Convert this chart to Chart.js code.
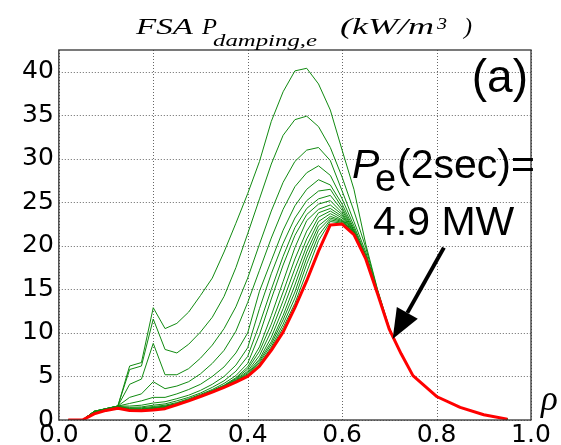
<!DOCTYPE html>
<html>
<head>
<meta charset="utf-8">
<script src="https://cdn.jsdelivr.net/npm/chart.js@4.4.0/dist/chart.umd.min.js"></script>
<style>
  html, body { margin: 0; padding: 0; background: #fff; }
</style>
</head>
<body>
<canvas id="chart" width="561" height="445"></canvas>
<script>
// normalized radius grid
const rho = [0.02, 0.05, 0.075, 0.1, 0.125, 0.15, 0.175, 0.2, 0.225, 0.25, 0.275, 0.3, 0.325, 0.35,
  0.375, 0.4, 0.425, 0.45, 0.475, 0.5, 0.525, 0.55, 0.575, 0.6, 0.625, 0.65, 0.675, 0.7,
  0.725, 0.75, 0.8, 0.85, 0.9, 0.95];

// final profile (2 sec), red
const pFinal = [0, 0, 0.7, 1.1, 1.35, 1.1, 1.05, 1.15, 1.3, 1.75, 2.2, 2.7, 3.2, 3.75, 4.35,
  5.0, 6.2, 8.0, 10.1, 12.9, 16.0, 19.4, 22.4, 22.5, 21.3, 18.5, 14.5, 10.4,
  7.6, 5.1, 2.7, 1.45, 0.6, 0.1];

// earlier time slices, green (rho 0.02 .. 0.7), outer part shared
const outerTail = [7.6, 5.1, 2.7, 1.45, 0.6, 0.1];
const g01 = [0, 0, 1.0, 1.3, 1.6, 6.2, 6.6, 12.9, 10.5, 11.1, 12.4, 14.3, 16.3, 19.3, 22.6, 26.0, 29.7, 34.3, 37.7, 40.1, 40.4, 38.6, 35.6, 31.0, 26.5, 20.2, 15.0, 10.6];
const g02 = [0, 0, 1.0, 1.3, 1.6, 5.8, 6.2, 11.6, 8.1, 7.7, 8.7, 10.1, 11.8, 14.2, 17.5, 21.4, 25.4, 29.4, 32.7, 34.5, 34.9, 33.7, 31.3, 27.9, 24.0, 19.8, 14.9, 10.5];
const g03 = [0, 0, 1.0, 1.3, 1.6, 4.1, 4.7, 8.8, 5.2, 5.2, 5.9, 7.1, 8.6, 10.5, 13.0, 16.3, 20.2, 24.0, 27.3, 29.7, 31.0, 31.3, 29.8, 26.3, 22.8, 19.3, 14.8, 10.5];
const g04 = [0, 0, 1.0, 1.3, 1.6, 2.6, 3.0, 4.4, 3.6, 3.9, 4.4, 5.3, 6.5, 8.0, 10.2, 13.5, 17.2, 20.9, 24.2, 26.8, 28.4, 29.2, 28.1, 25.4, 22.3, 19.0, 14.7, 10.5];
const g05 = [0, 0, 0.95, 1.3, 1.6, 1.9, 2.2, 2.6, 2.6, 3.0, 3.5, 4.1, 5.0, 6.1, 7.7, 10.0, 14.8, 18.3, 21.8, 24.6, 26.5, 27.6, 27.0, 24.8, 22.0, 18.9, 14.7, 10.5];
const g06 = [0, 0, 0.95, 1.25, 1.6, 1.6, 1.7, 1.95, 2.1, 2.45, 2.85, 3.4, 4.1, 5.0, 6.3, 8.3, 12.8, 16.8, 20.3, 23.2, 25.2, 26.3, 26.5, 24.4, 21.8, 18.8, 14.7, 10.5];
const g07 = [0, 0, 0.95, 1.25, 1.55, 1.45, 1.5, 1.7, 1.85, 2.2, 2.6, 3.1, 3.75, 4.5, 5.6, 7.3, 11.0, 15.0, 18.8, 22.1, 24.3, 25.4, 25.8, 24.1, 21.7, 18.7, 14.6, 10.5];
const g08 = [0, 0, 0.9, 1.25, 1.55, 1.35, 1.4, 1.55, 1.7, 2.0, 2.45, 2.95, 3.5, 4.2, 5.1, 6.5, 9.8, 13.9, 17.8, 21.2, 23.6, 24.8, 25.2, 23.8, 21.6, 18.7, 14.6, 10.5];
const g09 = [0, 0, 0.9, 1.2, 1.5, 1.3, 1.3, 1.45, 1.6, 1.9, 2.35, 2.85, 3.4, 4.0, 4.85, 6.1, 8.4, 12.0, 15.9, 19.8, 22.9, 24.2, 24.7, 23.6, 21.5, 18.7, 14.6, 10.5];
const g10 = [0, 0, 0.9, 1.2, 1.5, 1.25, 1.25, 1.4, 1.55, 1.85, 2.3, 2.8, 3.35, 3.95, 4.75, 5.85, 7.9, 11.0, 14.7, 18.5, 21.7, 23.8, 24.3, 23.4, 21.5, 18.6, 14.6, 10.5];
const g11 = [0, 0, 0.85, 1.2, 1.5, 1.2, 1.2, 1.35, 1.5, 1.85, 2.3, 2.8, 3.3, 3.9, 4.65, 5.6, 7.4, 10.2, 13.7, 17.4, 20.8, 23.3, 24.0, 23.2, 21.4, 18.6, 14.6, 10.5];
const g12 = [0, 0, 0.85, 1.15, 1.45, 1.2, 1.15, 1.3, 1.45, 1.8, 2.25, 2.75, 3.3, 3.85, 4.55, 5.45, 7.0, 9.5, 12.8, 16.4, 20.0, 22.8, 23.7, 23.0, 21.4, 18.6, 14.6, 10.5];
const g13 = [0, 0, 0.8, 1.15, 1.45, 1.15, 1.1, 1.25, 1.45, 1.8, 2.25, 2.75, 3.25, 3.85, 4.5, 5.3, 6.8, 9.0, 12.0, 15.5, 19.3, 22.3, 23.4, 22.9, 21.4, 18.6, 14.5, 10.4];
const g14 = [0, 0, 0.8, 1.1, 1.4, 1.15, 1.1, 1.2, 1.4, 1.8, 2.2, 2.7, 3.25, 3.8, 4.45, 5.2, 6.6, 8.7, 11.5, 14.7, 18.6, 21.8, 23.2, 22.8, 21.4, 18.5, 14.5, 10.4];
const g15 = [0, 0, 0.75, 1.1, 1.4, 1.1, 1.05, 1.2, 1.4, 1.8, 2.2, 2.7, 3.2, 3.8, 4.4, 5.15, 6.4, 8.4, 11.0, 14.0, 17.9, 21.2, 23.0, 22.7, 21.3, 18.5, 14.5, 10.4];
const g16 = [0, 0, 0.75, 1.1, 1.4, 1.1, 1.05, 1.15, 1.35, 1.75, 2.2, 2.7, 3.2, 3.75, 4.4, 5.1, 6.3, 8.2, 10.6, 13.4, 17.0, 20.6, 22.8, 22.6, 21.3, 18.5, 14.5, 10.4];

const xTicks = [0, 0.2, 0.4, 0.6, 0.8, 1.0];
const yTicks = [0, 5, 10, 15, 20, 25, 30, 35, 40];

// arrow: tail and tip in data units (rho, kW/m^3)
const arrowTail = [0.8155, 19.8];
const arrowTip = [0.707, 9.3];

const toPoints = vals => vals.map((v, i) => ({ x: rho[i], y: v }));

const greens = [g01, g02, g03, g04, g05, g06, g07, g08, g09, g10, g11, g12, g13, g14, g15, g16];

const datasets = [{
    label: 'P_e 2 sec',
    data: toPoints(pFinal),
    borderColor: '#ff0000',
    borderWidth: 3,
    pointRadius: 0,
    borderJoinStyle: 'round'
}];
greens.forEach((g, i) => {
    datasets.push({
        label: 't' + (i + 1),
        data: toPoints(g.concat(outerTail)),
        borderColor: '#108a10',
        borderWidth: 1,
        pointRadius: 0,
        borderJoinStyle: 'round'
    });
});

const stretchText = (ctx, text, x, y, w, font) => {
    ctx.font = font;
    const nat = ctx.measureText(text).width;
    ctx.save();
    ctx.translate(x, y);
    ctx.scale(w / nat, 1);
    ctx.fillText(text, 0, 0);
    ctx.restore();
};

const decor = {
    id: 'decor',
    beforeDatasetsDraw(chart) {
        // dotted grid at the tick values
        const { ctx, chartArea: a, scales } = chart;
        ctx.save();
        ctx.strokeStyle = 'rgba(0,0,0,0.6)';
        ctx.lineWidth = 1;
        ctx.setLineDash([1, 2]);
        xTicks.forEach(v => {
            const px = Math.round(scales.x.getPixelForValue(v)) + 0.5;
            ctx.beginPath();
            ctx.moveTo(px, a.top);
            ctx.lineTo(px, a.bottom);
            ctx.stroke();
        });
        yTicks.forEach(v => {
            const py = Math.round(scales.y.getPixelForValue(v)) + 0.5;
            ctx.beginPath();
            ctx.moveTo(a.left, py);
            ctx.lineTo(a.right, py);
            ctx.stroke();
        });
        ctx.restore();
    },
    afterDraw(chart) {
        const { ctx, chartArea: a, scales } = chart;
        ctx.save();
        // axes frame
        ctx.strokeStyle = '#333';
        ctx.lineWidth = 1.3;
        ctx.strokeRect(a.left, a.top, a.right - a.left, a.bottom - a.top);

        ctx.fillStyle = '#000';
        ctx.textAlign = 'left';
        ctx.textBaseline = 'alphabetic';

        // title (math style)
        const serifIt = s => 'italic ' + s + 'px "Liberation Serif"';
        stretchText(ctx, 'FSA', 136, 34, 57, serifIt(23));
        stretchText(ctx, 'P', 202, 34, 15, serifIt(23));
        stretchText(ctx, 'damping,e', 213, 46, 104, serifIt(16));
        stretchText(ctx, '(kW/m', 340, 34, 94, serifIt(23));
        stretchText(ctx, '3', 437, 29, 10, serifIt(16));
        stretchText(ctx, ')', 464, 34, 8, serifIt(23));

        // x axis symbol
        ctx.font = serifIt(35);
        ctx.fillText('\u03c1', 541, 410);

        // panel label
        ctx.font = '46px "Liberation Sans"';
        ctx.textAlign = 'right';
        ctx.fillText('(a)', 528, 92);

        // power annotation
        ctx.textAlign = 'left';
        ctx.font = 'italic 41px "Liberation Sans"';
        ctx.fillText('P', 352, 178);
        ctx.font = '38px "Liberation Sans"';
        ctx.fillText('e', 375, 191);
        ctx.font = '41px "Liberation Sans"';
        ctx.fillText('(2sec)=', 397, 178);
        ctx.fillText('4.9 MW', 373, 235);

        // arrow
        const x0 = scales.x.getPixelForValue(arrowTail[0]);
        const y0 = scales.y.getPixelForValue(arrowTail[1]);
        const x1 = scales.x.getPixelForValue(arrowTip[0]);
        const y1 = scales.y.getPixelForValue(arrowTip[1]);
        const ang = Math.atan2(y1 - y0, x1 - x0);
        const headLen = 30, headHalf = 12;
        const bx = x1 - headLen * Math.cos(ang);
        const by = y1 - headLen * Math.sin(ang);
        ctx.strokeStyle = '#000';
        ctx.lineWidth = 4;
        ctx.beginPath();
        ctx.moveTo(x0, y0);
        ctx.lineTo(bx, by);
        ctx.stroke();
        ctx.beginPath();
        ctx.moveTo(x1, y1);
        ctx.lineTo(bx + headHalf * Math.sin(ang), by - headHalf * Math.cos(ang));
        ctx.lineTo(bx - headHalf * Math.sin(ang), by + headHalf * Math.cos(ang));
        ctx.closePath();
        ctx.fill();
        ctx.restore();
    }
};

new Chart(document.getElementById('chart'), {
    type: 'line',
    data: { datasets: datasets },
    options: {
        responsive: false,
        animation: false,
        devicePixelRatio: 1,
        layout: { padding: { left: 17, right: 30, top: 50, bottom: -6 } },
        plugins: { legend: { display: false }, tooltip: { enabled: false }, title: { display: false } },
        scales: {
            x: {
                type: 'linear',
                min: 0,
                max: 1,
                grid: { display: false, drawTicks: false },
                border: { display: false },
                afterBuildTicks: s => { s.ticks = xTicks.map(v => ({ value: v })); },
                ticks: {
                    color: '#000',
                    font: { family: '"DejaVu Sans"', size: 25, lineHeight: 0.6 },
                    padding: 8,
                    maxRotation: 0,
                    callback: v => v.toFixed(1)
                }
            },
            y: {
                min: 0,
                max: 42.5,
                grid: { display: false, drawTicks: false },
                border: { display: false },
                afterBuildTicks: s => { s.ticks = yTicks.map(v => ({ value: v })); },
                ticks: {
                    color: '#000',
                    font: { family: '"DejaVu Sans"', size: 25, lineHeight: 0.2 },
                    padding: 5,
                    callback: v => String(v)
                }
            }
        }
    },
    plugins: [decor]
});
</script>
</body>
</html>
